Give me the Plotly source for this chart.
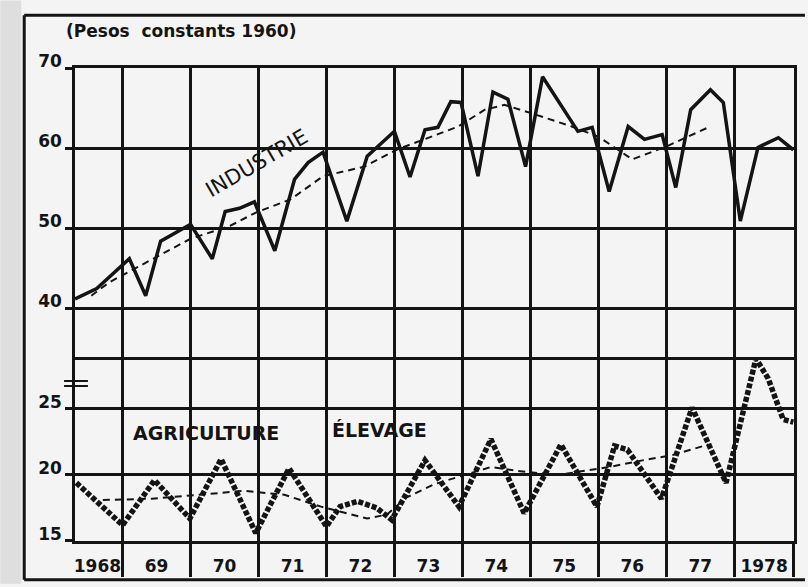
import plotly.graph_objects as go
from plotly.subplots import make_subplots

# ---------------- data ----------------
# INDUSTRIE (solid line), x in decimal years
ind_x = [1968.30, 1968.62, 1969.10, 1969.34, 1969.56, 1970.00, 1970.32, 1970.51, 1970.72, 1970.94,
         1971.24, 1971.53, 1971.73, 1971.95, 1972.30, 1972.60, 1973.00, 1973.23, 1973.45, 1973.64,
         1973.83, 1973.98, 1974.23, 1974.45, 1974.67, 1974.93, 1975.18, 1975.70, 1975.91, 1976.16,
         1976.44, 1976.68, 1976.94, 1977.14, 1977.36, 1977.65, 1977.84, 1978.09, 1978.35, 1978.65,
         1978.87]
ind_y = [41.2, 42.5, 46.2, 41.6, 48.4, 50.5, 46.2, 52.1, 52.5, 53.3,
         47.2, 56.1, 58.2, 59.5, 50.9, 59.0, 62.1, 56.4, 62.3, 62.6,
         65.8, 65.7, 56.5, 67.0, 66.1, 57.7, 68.9, 62.1, 62.6, 54.6,
         62.7, 61.1, 61.7, 55.1, 64.8, 67.3, 65.7, 50.9, 60.1, 61.3,
         59.8]

# INDUSTRIE trend (dashed)
ind_trend_x = [1968.54, 1968.81, 1970.00, 1970.58, 1970.97, 1971.47, 1971.95, 1972.56, 1973.03, 1973.53,
               1973.94, 1974.33, 1974.62, 1975.00, 1975.61, 1976.01, 1976.50, 1977.00, 1977.62]
ind_trend_y = [41.6, 43.3, 48.7, 50.3, 52.0, 53.6, 56.5, 57.7, 59.8, 61.4,
               62.7, 64.8, 65.4, 64.4, 62.7, 61.4, 58.6, 60.2, 62.6]

# AGRICULTURE / ELEVAGE (dotted line)
agr_x = [1968.32, 1969.00, 1969.47, 1969.99, 1970.45, 1970.96, 1971.45, 1972.00, 1972.20, 1972.46,
         1972.74, 1972.96, 1973.45, 1973.95, 1974.42, 1974.91, 1975.45, 1975.98, 1976.24, 1976.43,
         1976.93, 1977.38, 1977.88, 1978.32, 1978.50, 1978.72, 1978.87]
agr_y = [19.4, 16.2, 19.6, 16.7, 21.2, 15.6, 20.5, 16.1, 17.6, 18.0,
         17.5, 16.6, 21.1, 17.6, 22.7, 17.1, 22.3, 17.6, 22.2, 21.9,
         18.2, 25.1, 19.4, 28.8, 27.3, 24.2, 24.0]

# AGRICULTURE trend (dashed)
agr_trend_x = [1968.71, 1969.43, 1970.14, 1970.78, 1971.38, 1971.92, 1972.60, 1972.89, 1973.18, 1973.59,
               1974.42, 1974.81, 1975.41, 1976.16, 1976.65, 1977.09, 1977.62]
agr_trend_y = [18.1, 18.2, 18.5, 18.8, 18.5, 17.6, 16.7, 17.0, 18.3, 19.3,
               20.6, 20.3, 20.0, 20.6, 21.1, 21.5, 22.3]

# axes
year_bounds = [1969, 1970, 1971, 1972, 1973, 1974, 1975, 1976, 1977, 1978, 1978.875]
year_label_pos = [1968.63, 1969.5, 1970.5, 1971.5, 1972.5, 1973.5, 1974.5, 1975.5, 1976.5, 1977.5, 1978.44]
year_labels = ["1968", "69", "70", "71", "72", "73", "74", "75", "76", "77", "1978"]
x_range = [1968.30, 1978.88]
upper_ticks = [40, 50, 60, 70]
upper_range = [33.93, 70]
lower_ticks = [15, 20, 25]
lower_range = [15, 28.91]

# ---------------- styling ----------------
INK = "#141414"
BG = "#f4f4f4"
FONT = "DejaVu Sans"
W, H = 808, 587
ML, MR, MT, MB = 75, 11, 68, 43
PW, PH = W - ML - MR, H - MT - MB


def P(px, py):
    """pixel position -> paper coordinates (for decorations/labels only)"""
    return (px - ML) / PW, (H - MB - py) / PH


fig = make_subplots(rows=2, cols=1, shared_xaxes=True, vertical_spacing=0,
                    row_heights=[291, 185])

fig.add_trace(go.Scatter(x=ind_trend_x, y=ind_trend_y, mode="lines",
                         line=dict(color=INK, width=2, dash="7px,5px"),
                         showlegend=False, hoverinfo="skip"), row=1, col=1)
fig.add_trace(go.Scatter(x=ind_x, y=ind_y, mode="lines",
                         line=dict(color=INK, width=3.5),
                         showlegend=False), row=1, col=1)
fig.add_trace(go.Scatter(x=agr_trend_x, y=agr_trend_y, mode="lines",
                         line=dict(color=INK, width=2, dash="7px,5px"),
                         showlegend=False, hoverinfo="skip"), row=2, col=1)
fig.add_trace(go.Scatter(x=agr_x, y=agr_y, mode="lines",
                         line=dict(color=INK, width=5.5, dash="5px,2px"),
                         showlegend=False), row=2, col=1)

TICKFONT = dict(family=FONT, size=17, color=INK, weight="bold")
xcommon = dict(range=x_range, tickmode="array", tickvals=year_label_pos, ticktext=year_labels,
               ticks="", showgrid=False, zeroline=False,
               showline=True, linecolor=INK, linewidth=2.5,
               tickfont=TICKFONT)
fig.update_xaxes(**xcommon)
fig.update_xaxes(showticklabels=False, mirror=True,
                 minor=dict(tickmode="array", tickvals=year_bounds, showgrid=True,
                            gridcolor=INK, gridwidth=2.5, ticks=""),
                 row=1, col=1)
fig.update_xaxes(showticklabels=True, ticklabelstandoff=8, mirror=False,
                 minor=dict(tickmode="array", tickvals=year_bounds, showgrid=True,
                            gridcolor=INK, gridwidth=2.5, ticks="outside",
                            ticklen=33, tickwidth=2.5, tickcolor=INK),
                 row=2, col=1)

ycommon = dict(showgrid=True, gridcolor=INK, gridwidth=2.5, zeroline=False,
               showline=True, linecolor=INK, linewidth=2.5, mirror=True,
               ticks="outside", ticklen=7, tickwidth=2.5, tickcolor=INK,
               tickfont=TICKFONT, ticklabelshift=-7,
               ticklabelstandoff=0, tickmode="array")
fig.update_yaxes(**ycommon, range=upper_range, tickvals=upper_ticks, row=1, col=1)
fig.update_yaxes(**ycommon, range=lower_range, tickvals=lower_ticks, row=2, col=1)

# annotations
LBL = dict(family=FONT, size=19, color=INK, weight="bold")
annos = []
tx, ty = P(64, 31)
annos.append(dict(x=tx, y=ty, xref="paper", yref="paper", text="(Pesos  constants 1960)",
                  showarrow=False, xanchor="left", yanchor="middle",
                  font=dict(family=FONT, size=17, color=INK, weight="bold")))
tx, ty = P(258, 164)
annos.append(dict(x=tx, y=ty, xref="paper", yref="paper", text="INDUSTRIE", textangle=-30,
                  showarrow=False, xanchor="center", yanchor="middle",
                  font=dict(family=FONT, size=21, color=INK)))
tx, ty = P(207, 435)
annos.append(dict(x=tx, y=ty, xref="paper", yref="paper", text="AGRICULTURE",
                  showarrow=False, xanchor="center", yanchor="middle", font=LBL))
tx, ty = P(381, 432)
annos.append(dict(x=tx, y=ty, xref="paper", yref="paper", text="ÉLEVAGE",
                  showarrow=False, xanchor="center", yanchor="middle", font=LBL))

# frame + break marks (decoration)
shapes = []
x0, y0 = P(0, 0)
x1, y1 = P(21, H)
shapes.append(dict(type="rect", xref="paper", yref="paper", x0=x0, y0=y0, x1=x1, y1=y1,
                   fillcolor="#dedede", line=dict(width=0), layer="below"))
for (a, b, c, d) in [(24, 15, 24, 583), (24, 15, 808, 15), (24, 583, 808, 583)]:
    xa, ya = P(a, b)
    xb, yb = P(c, d)
    shapes.append(dict(type="line", xref="paper", yref="paper", x0=xa, y0=ya, x1=xb, y1=yb,
                       line=dict(color=INK, width=3)))
for yy in (383, 388):
    xa, ya = P(64, yy)
    xb, yb = P(88, yy)
    shapes.append(dict(type="line", xref="paper", yref="paper", x0=xa, y0=ya, x1=xb, y1=yb,
                       line=dict(color=INK, width=2)))

fig.update_layout(width=W, height=H, margin=dict(l=ML, r=MR, t=MT, b=MB),
                  paper_bgcolor=BG, plot_bgcolor=BG, showlegend=False,
                  annotations=annos, shapes=shapes,
                  font=dict(family=FONT, color=INK))

fig.write_html("out.html", config={"displayModeBar": False},
               post_script="document.body.style.margin='0';document.body.style.overflow='hidden';")
